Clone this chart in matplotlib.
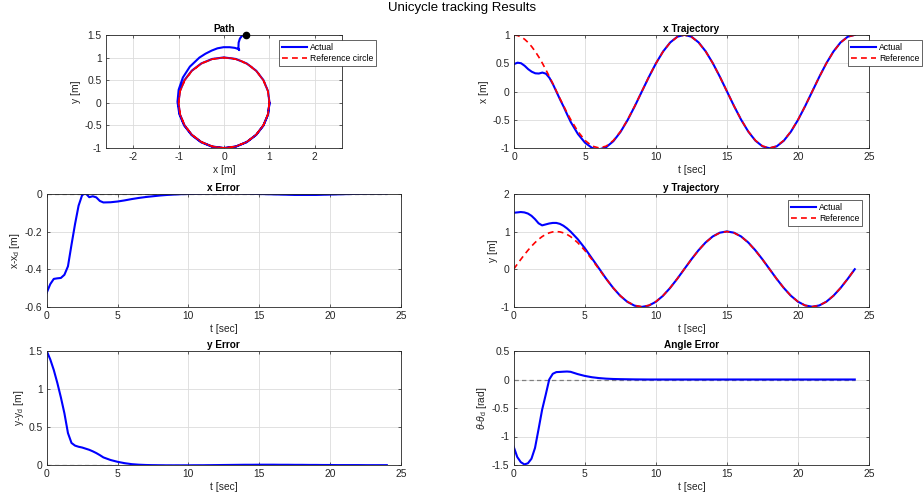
import numpy as np
import matplotlib
matplotlib.use('Agg')
import matplotlib.pyplot as plt
from matplotlib.ticker import FuncFormatter

# ---------------- data ----------------
t = [0.0, 0.25, 0.5, 0.75, 1.0, 1.25, 1.5, 1.75, 2.0, 2.25, 2.5, 2.75, 3.0, 3.25, 3.5, 3.75, 4.0,
     4.5, 5.0, 5.5, 6.0, 6.5, 7.0, 7.5, 8.0, 8.5, 9.0, 9.5, 10.0, 10.5, 11.0, 11.5, 12.0,
     12.5, 13.0, 13.5, 14.0, 14.5, 15.0, 15.5, 16.0, 16.5, 17.0, 17.5, 18.0, 18.5, 19.0,
     19.5, 20.0, 20.5, 21.0, 21.5, 22.0, 22.5, 23.0, 23.5, 24.0]

x_ref = [1.0, 0.991, 0.966, 0.924, 0.866, 0.793, 0.707, 0.609, 0.5, 0.383, 0.259, 0.131, 0.0,
         -0.131, -0.259, -0.383, -0.5,
         -0.707, -0.866, -0.966, -1.0, -0.966, -0.866, -0.707, -0.5, -0.259, 0.0, 0.259, 0.5,
         0.707, 0.866, 0.966, 1.0, 0.966, 0.866, 0.707, 0.5, 0.259, 0.0, -0.259, -0.5, -0.707,
         -0.866, -0.966, -1.0, -0.966, -0.866, -0.707, -0.5, -0.259, 0.0, 0.259, 0.5, 0.707,
         0.866, 0.966, 1.0]

y_ref = [0.0, 0.131, 0.259, 0.383, 0.5, 0.609, 0.707, 0.793, 0.866, 0.924, 0.966, 0.991, 1.0,
         0.991, 0.966, 0.924, 0.866,
         0.707, 0.5, 0.259, 0.0, -0.259, -0.5, -0.707, -0.866, -0.966, -1.0, -0.966, -0.866,
         -0.707, -0.5, -0.259, 0.0, 0.259, 0.5, 0.707, 0.866, 0.966, 1.0, 0.966, 0.866, 0.707,
         0.5, 0.259, 0.0, -0.259, -0.5, -0.707, -0.866, -0.966, -1.0, -0.966, -0.866, -0.707,
         -0.5, -0.259, 0.0]

x_act = [0.485, 0.51, 0.5, 0.455, 0.395, 0.35, 0.322, 0.318, 0.335, 0.315, 0.24, 0.125, -0.01,
         -0.145, -0.272, -0.41, -0.542,
         -0.752, -0.906, -0.999, -1.025, -0.984, -0.879, -0.716, -0.506, -0.263, -0.002, 0.258,
         0.5, 0.708, 0.868, 0.969, 1.003, 0.969, 0.869, 0.71, 0.502, 0.26, 0.0, -0.26, -0.502,
         -0.71, -0.87, -0.971, -1.005, -0.971, -0.871, -0.711, -0.503, -0.261, -0.001, 0.259,
         0.501, 0.709, 0.869, 0.969, 1.003]

y_act = [1.5, 1.51, 1.52, 1.51, 1.48, 1.42, 1.33, 1.22, 1.165, 1.19, 1.215, 1.23, 1.23, 1.205,
         1.155, 1.085, 1.0,
         0.8, 0.56, 0.29, 0.02, -0.252, -0.5, -0.712, -0.872, -0.972, -1.006, -0.971, -0.871,
         -0.711, -0.503, -0.261, -0.001, 0.259, 0.501, 0.709, 0.869, 0.97, 1.004, 0.97, 0.87,
         0.711, 0.503, 0.262, 0.002, -0.258, -0.499, -0.707, -0.866, -0.966, -1.0, -0.967,
         -0.867, -0.708, -0.501, -0.26, -0.002]

x_err = [-0.526, -0.48, -0.452, -0.449, -0.447, -0.43, -0.385, -0.27, -0.16, -0.062, -0.006,
         0.004, -0.017, -0.012, -0.018, -0.037, -0.045,
         -0.044, -0.04, -0.034, -0.027, -0.021, -0.016, -0.012, -0.008, -0.005, -0.003, -0.001,
         0.0, 0.001, 0.002, 0.003, 0.003, 0.003, 0.003, 0.003, 0.002, 0.001, 0.0, -0.001,
         -0.002, -0.003, -0.004, -0.005, -0.005, -0.005, -0.005, -0.004, -0.003, -0.002,
         -0.001, 0.0, 0.001, 0.002, 0.003, 0.003, 0.003]

y_err = [1.5, 1.39, 1.25, 1.08, 0.89, 0.68, 0.42, 0.29, 0.255, 0.24, 0.23, 0.215, 0.2, 0.18,
         0.157, 0.13, 0.1,
         0.066, 0.042, 0.024, 0.011, 0.004, 0.0, -0.002, -0.003, -0.004, -0.004, -0.004,
         -0.004, -0.003, -0.003, -0.002, -0.001, 0.0, 0.001, 0.002, 0.003, 0.003, 0.004, 0.004,
         0.004, 0.003, 0.003, 0.002, 0.002, 0.001, 0.001, 0.0, 0.0, -0.001, -0.001, -0.001,
         -0.001, -0.002, -0.002, -0.002, -0.002]

th_err = [-1.18, -1.36, -1.45, -1.49, -1.47, -1.39, -1.2, -0.87, -0.53, -0.27, 0.0, 0.1, 0.13,
          0.133, 0.137, 0.14, 0.135,
          0.095, 0.063, 0.04, 0.025, 0.015, 0.009, 0.006, 0.004, 0.002, 0.001, 0.0, 0.0, 0.0,
          0.0, 0.0, 0.0, 0.0, 0.0, 0.0, 0.0, 0.0, 0.0, 0.0, 0.0, 0.0, 0.0, 0.0, 0.0, 0.0, 0.0,
          0.0, 0.0, 0.0, 0.0, 0.0, 0.0, 0.0, 0.0, 0.0, 0.0]

# ---------------- style ----------------
plt.rcParams['font.family'] = ['Liberation Sans', 'DejaVu Sans']
plt.rcParams['mathtext.fontset'] = 'custom'
plt.rcParams['mathtext.rm'] = 'Liberation Sans'
plt.rcParams['mathtext.it'] = 'Liberation Sans:italic'
plt.rcParams['axes.unicode_minus'] = False

W, H = 924, 499
fig = plt.figure(figsize=(W / 100, H / 100), dpi=100)

TXT = '#262626'
BLUE = (0, 0, 1)
RED = (1, 0, 0)
FS = 7.4       # tick / axis label size
FT = 7.2       # axes title size
FL = 6.2       # legend size


def rect(l, r, top, bot):
    return [l / W, 1 - bot / H, (r - l) / W, (bot - top) / H]


fmt = FuncFormatter(lambda v, p: '%g' % round(v, 6))


def style(ax, title, xlabel, ylabel, xlim, ylim, xticks, yticks):
    ax.set_xlim(*xlim)
    ax.set_ylim(*ylim)
    ax.set_xticks(xticks)
    ax.set_yticks(yticks)
    ax.xaxis.set_major_formatter(fmt)
    ax.yaxis.set_major_formatter(fmt)
    ax.grid(True, color='#dcdcdc', lw=0.6)
    ax.set_axisbelow(True)
    ax.tick_params(direction='in', length=2.5, width=0.5, labelsize=FS, colors=TXT, pad=3,
                   top=True, right=True)
    for s in ax.spines.values():
        s.set_color('#262626')
        s.set_linewidth(0.6)
    ax.set_title(title, fontsize=FT, fontweight='bold', color='black', pad=2)
    ax.set_xlabel(xlabel, fontsize=FS, color=TXT, labelpad=2)
    ax.set_ylabel(ylabel, fontsize=FS, color=TXT, labelpad=2)


def legend(handles, labels, anchor, loc='upper left'):
    lg = fig.legend(handles, labels, loc=loc, bbox_to_anchor=(anchor[0] / W, 1 - anchor[1] / H),
                    fontsize=FL, frameon=True, fancybox=False, edgecolor='#262626',
                    framealpha=1, handlelength=3.0, borderpad=0.3, labelspacing=0.3,
                    handletextpad=0.3, borderaxespad=0)
    lg.get_frame().set_linewidth(0.5)
    return lg


LW_A = 1.5
LW_R = 1.2
DASH = (0, (3.5, 2.5))

fig.text(0.5, 1 - 8 / H, 'Unicycle tracking Results', ha='center', va='center', fontsize=9.5,
         color='black')

# Path
ax = fig.add_axes(rect(106, 342, 35, 148))
la, = ax.plot(x_act, y_act, color=BLUE, lw=LW_A)
lr, = ax.plot(x_ref, y_ref, color=RED, lw=LW_R, ls=DASH)
ax.plot(x_act[0], y_act[0], 'o', color='black', ms=4.5, clip_on=False, zorder=5)
style(ax, 'Path', 'x [m]', 'y [m]', (-2.6, 2.6), (-1, 1.5), [-2, -1, 0, 1, 2],
      [-1, -0.5, 0, 0.5, 1, 1.5])
legend([la, lr], ['Actual', 'Reference circle'], (279, 40))

# x Trajectory
ax = fig.add_axes(rect(514, 869, 35, 148))
la, = ax.plot(t, x_act, color=BLUE, lw=LW_A)
lr, = ax.plot(t, x_ref, color=RED, lw=LW_R, ls=DASH)
style(ax, 'x Trajectory', 't [sec]', 'x [m]', (0, 25), (-1, 1), [0, 5, 10, 15, 20, 25],
      [-1, -0.5, 0, 0.5, 1])
legend([la, lr], ['Actual', 'Reference'], (922, 40), loc='upper right')

# x Error
ax = fig.add_axes(rect(46.7, 401, 194, 306.7))
ax.hlines(0, t[0], t[-1], colors='#808080', lw=0.9, linestyles=DASH)
ax.plot(t, x_err, color=BLUE, lw=LW_A)
style(ax, 'x Error', 't [sec]', 'x-x$_{\\rm d}$ [m]', (0, 25), (-0.6, 0),
      [0, 5, 10, 15, 20, 25], [-0.6, -0.4, -0.2, 0])

# y Trajectory
ax = fig.add_axes(rect(513.7, 869, 194, 306.7))
la, = ax.plot(t, y_act, color=BLUE, lw=LW_A)
lr, = ax.plot(t, y_ref, color=RED, lw=LW_R, ls=DASH)
style(ax, 'y Trajectory', 't [sec]', 'y [m]', (0, 25), (-1, 2), [0, 5, 10, 15, 20, 25],
      [-1, 0, 1, 2])
legend([la, lr], ['Actual', 'Reference'], (862, 200), loc='upper right')

# y Error
ax = fig.add_axes(rect(46.7, 401, 351, 465))
ax.hlines(0, t[0], t[-1], colors='#808080', lw=0.9, linestyles=DASH)
ax.plot(t, y_err, color=BLUE, lw=LW_A)
style(ax, 'y Error', 't [sec]', 'y-y$_{\\rm d}$ [m]', (0, 25), (0, 1.5),
      [0, 5, 10, 15, 20, 25], [0, 0.5, 1, 1.5])

# Angle Error
ax = fig.add_axes(rect(513.7, 869, 351, 465))
ax.hlines(0, t[0], t[-1], colors='#808080', lw=0.9, linestyles=DASH)
ax.plot(t, th_err, color=BLUE, lw=LW_A)
style(ax, 'Angle Error', 't [sec]', '$\\theta$-$\\theta_{\\rm d}$ [rad]', (0, 25), (-1.5, 0.5),
      [0, 5, 10, 15, 20, 25], [-1.5, -1, -0.5, 0, 0.5])

fig.savefig('out.png', dpi=100)
